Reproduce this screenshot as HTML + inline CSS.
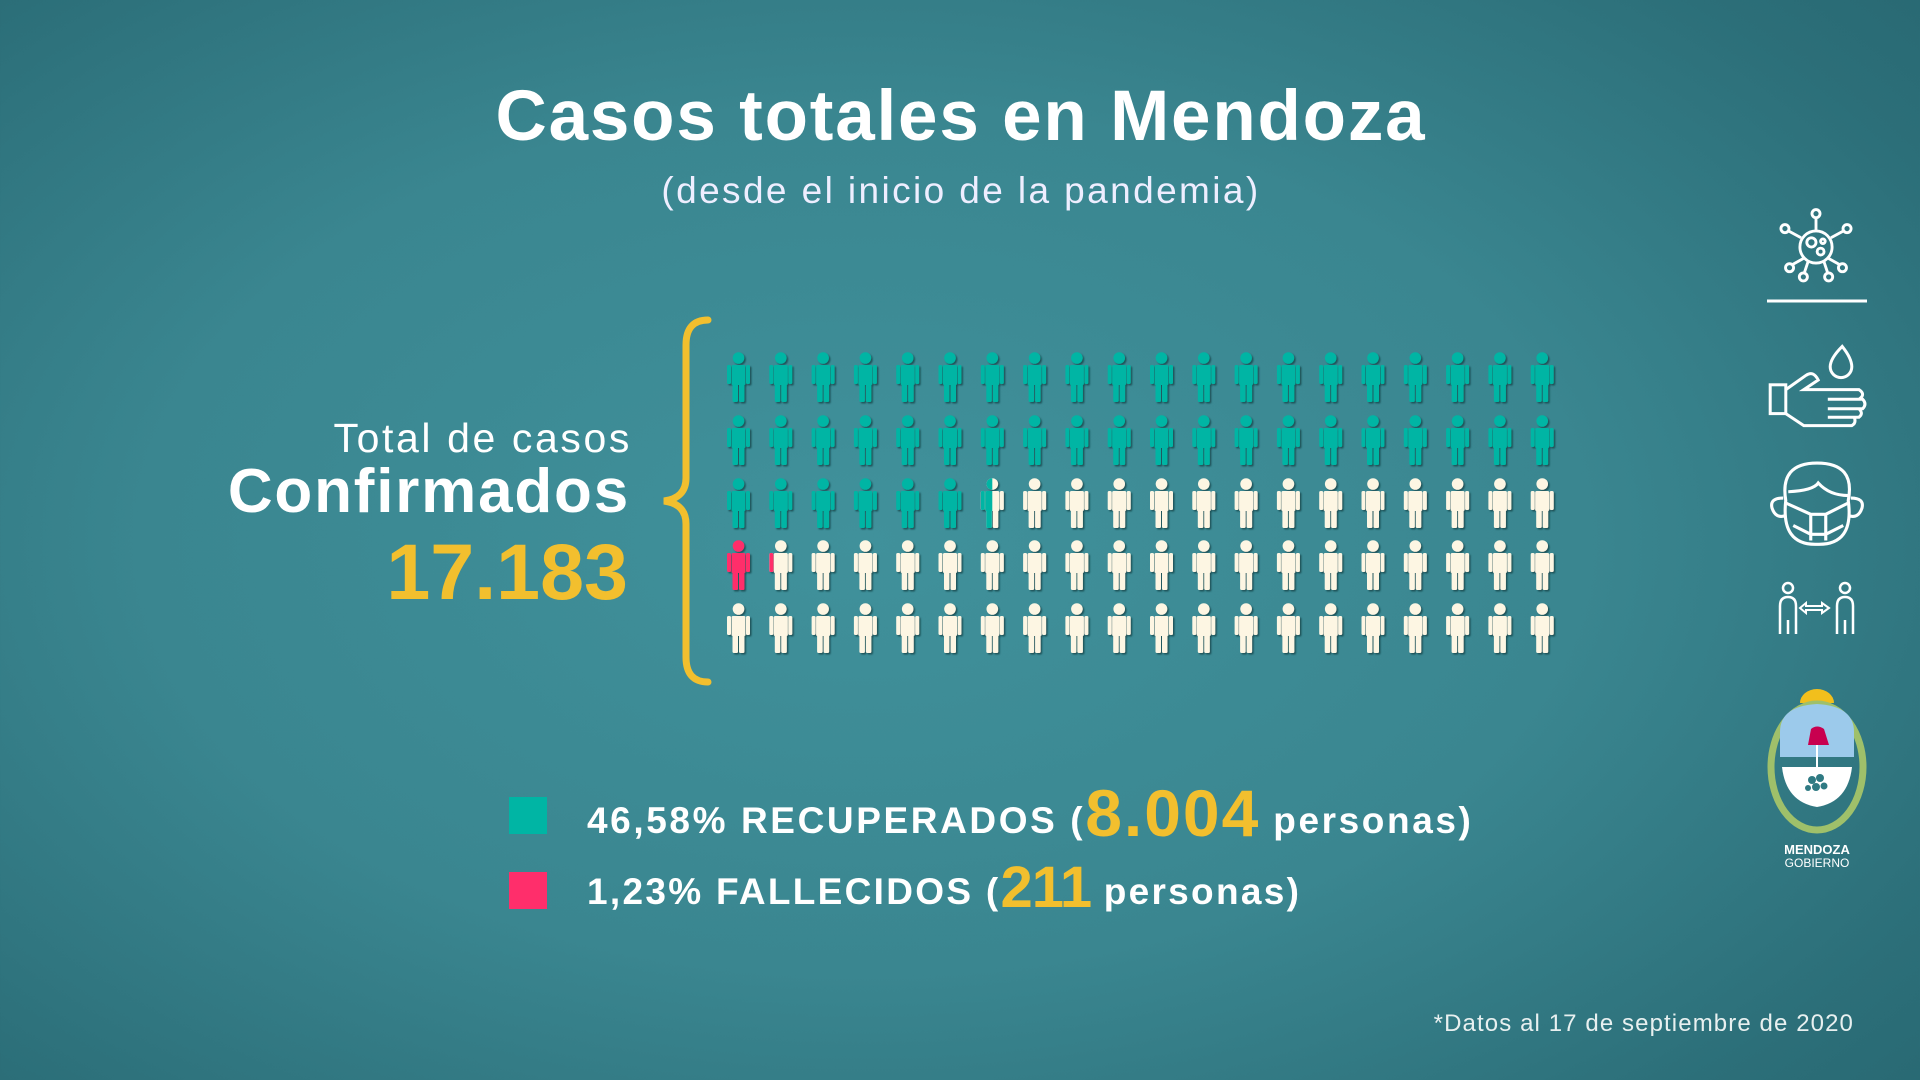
<!DOCTYPE html>
<html><head><meta charset="utf-8"><style>
html,body{margin:0;padding:0}
body{width:1920px;height:1080px;overflow:hidden;position:relative;font-family:"Liberation Sans",sans-serif;
background:radial-gradient(ellipse 75% 80% at 45% 50%,#40919b 0%,#3a8690 50%,#2c6f79 85%,#286872 100%);color:#fff}
.t{position:absolute;white-space:nowrap}
</style></head><body>
<div class="t" style="left:0;width:1922px;text-align:center;top:76px;font-size:71px;font-weight:bold;letter-spacing:1.8px">Casos totales en Mendoza</div>
<div class="t" style="left:0;width:1922px;text-align:center;top:170px;font-size:37px;color:#eef;letter-spacing:2.4px">(desde el inicio de la pandemia)</div>
<div class="t" style="right:1290px;top:415px;font-size:41px;text-align:right;letter-spacing:2.6px;margin-right:-2px">Total de casos</div>
<div class="t" style="right:1290px;top:456px;font-size:62px;font-weight:bold;text-align:right;letter-spacing:1.8px">Confirmados</div>
<div class="t" style="right:1292px;top:526px;font-size:79px;font-weight:bold;color:#f2bf2e;text-align:right">17.183</div>
<svg style="position:absolute;left:0;top:0" width="1920" height="1080">
<defs>
<g id="p"><circle cx="11.5" cy="6" r="5.8"/><rect x="4.5" y="13" width="14" height="20" rx="1.5"/><rect x="0" y="13" width="4" height="19" rx="1.5"/><rect x="19" y="13" width="4" height="19" rx="1.5"/><rect x="5.5" y="31" width="5.5" height="19" rx="1.5"/><rect x="12" y="31" width="5.5" height="19" rx="1.5"/></g>
<filter id="sh"><feDropShadow dx="1.5" dy="1.5" stdDeviation="0.8" flood-color="#0a3a40" flood-opacity="0.7"/></filter>
<clipPath id="half"><rect x="0" y="0" width="11.5" height="60"/></clipPath>
<clipPath id="arm"><rect x="0" y="0" width="4.5" height="60"/></clipPath>
</defs>
<path d="M708,320 Q686,320 686,345 L686,478 Q686,498 664,501 Q686,504 686,524 L686,657 Q686,682 708,682" fill="none" stroke="#f2bf2e" stroke-width="7" stroke-linecap="round"/>
<g id="grid" filter="url(#sh)"></g>
<rect x="509" y="797" width="38" height="37" fill="#00b5a4"/>
<rect x="509" y="872" width="38" height="37" fill="#ff2e6b"/>
<g fill="none" stroke="#fff" stroke-width="2.5">
<g transform="translate(1816,247) scale(1.15) translate(-1816,-244)">
<circle cx="1816" cy="244" r="14"/><circle cx="1812" cy="240" r="4"/><circle cx="1820" cy="248" r="3"/><circle cx="1822" cy="239" r="2"/>
<line x1="1816" y1="230" x2="1816" y2="219"/><circle cx="1816" cy="215" r="3.5"/>
<line x1="1803" y1="236" x2="1792" y2="230"/><circle cx="1789" cy="228" r="3.5"/>
<line x1="1829" y1="236" x2="1840" y2="230"/><circle cx="1843" cy="228" r="3.5"/>
<line x1="1805" y1="254" x2="1796" y2="259"/><circle cx="1793" cy="262" r="3.5"/>
<line x1="1827" y1="254" x2="1836" y2="259"/><circle cx="1839" cy="262" r="3.5"/>
<line x1="1809" y1="257" x2="1806" y2="266"/><circle cx="1805" cy="270" r="3.5"/>
<line x1="1823" y1="257" x2="1826" y2="266"/><circle cx="1827" cy="270" r="3.5"/>
</g>
<g transform="translate(1817,386) scale(1.2) translate(-1817,-349)">
<path d="M1838,316 Q1828,326 1828,333 A8,8 0 0 0 1846,333 Q1846,326 1838,316Z"/>
<rect x="1778" y="348" width="13" height="24"/>
<path d="M1791,352 L1808,340 Q1814,336 1818,344 L1806,352 L1852,352 Q1858,356 1852,360 L1826,360 M1826,360 L1855,360 Q1859,364 1855,368 L1826,368 M1826,368 L1852,368 Q1856,372 1852,375 L1826,375 M1826,375 L1848,375 Q1850,380 1846,382 L1806,382 L1791,372"/>
</g>
<g transform="translate(1817,503) scale(1.25) translate(-1815,-434)">
<path d="M1790,432 Q1785,402 1815,402 Q1846,402 1840,432 Q1845,468 1815,467 Q1786,468 1790,432Z"/>
<path d="M1788,430 Q1777,430 1779,438 Q1782,447 1790,444 M1842,430 Q1853,430 1851,438 Q1848,447 1840,444 M1792,425 Q1812,424 1816,418 Q1825,428 1840,428 M1790,434 L1810,443 L1822,443 L1840,434 M1796,452 L1810,459 L1822,459 L1836,452 M1810,443 L1810,464 M1822,443 L1822,464"/>
</g>
<circle cx="1788" cy="588" r="5"/><path d="M1780,634 L1780,606 Q1780,597 1788,597 Q1796,597 1796,606 L1796,634 M1788,620 L1788,634"/>
<circle cx="1845" cy="588" r="5"/><path d="M1837,634 L1837,606 Q1837,597 1845,597 Q1853,597 1853,606 L1853,634 M1845,620 L1845,634"/>
<path d="M1800,608 L1806,603 L1806,606 L1822,606 L1822,603 L1829,608 L1822,613 L1822,610 L1806,610 L1806,613Z" stroke-width="2"/>
<line x1="1767" y1="301" x2="1867" y2="301" stroke-width="3"/>
</g>
<path d="M1800,703 A17,14 0 0 1 1834,703 Z" fill="#f2bf1c"/>
<ellipse cx="1817" cy="767" rx="46" ry="63" fill="none" stroke="#9fc06a" stroke-width="7"/>
<path d="M1780,757 L1780,732 Q1780,706 1817,704 Q1854,706 1854,732 L1854,757 Z" fill="#9ccaeb"/>
<path d="M1782,767 L1852,767 Q1848,802 1817,807 Q1786,802 1782,767Z" fill="#fff"/>
<path d="M1808,745 L1811,729 Q1817,724 1824,729 L1829,745 Z" fill="#c8004f"/>
<line x1="1817" y1="745" x2="1817" y2="772" stroke="#fff" stroke-width="2"/>
<g fill="#2f7a83"><circle cx="1812" cy="780" r="4"/><circle cx="1820" cy="778" r="4"/><circle cx="1816" cy="787" r="4"/><circle cx="1824" cy="786" r="3.5"/><circle cx="1808" cy="788" r="3"/></g>
<text x="1817" y="854" text-anchor="middle" font-size="13" font-weight="bold" fill="#fff" font-family="Liberation Sans,sans-serif">MENDOZA</text>
<text x="1817" y="867" text-anchor="middle" font-size="12" fill="#fff" font-family="Liberation Sans,sans-serif">GOBIERNO</text>
</svg>
<div class="t" style="left:587px;top:778px;font-size:37px;font-weight:bold;line-height:70px;letter-spacing:2.6px">46,58% RECUPERADOS (<span style="color:#f2bf2e;font-size:66px;vertical-align:-3px;letter-spacing:2px">8.004</span> personas)</div>
<div class="t" style="left:587px;top:853px;font-size:37px;font-weight:bold;line-height:70px;letter-spacing:2.3px">1,23% FALLECIDOS (<span style="color:#f2bf2e;font-size:58px;vertical-align:-3px;letter-spacing:-1px">211</span> personas)</div>
<div class="t" style="right:66px;top:1010px;font-size:24px;color:#e8f0f0;letter-spacing:1.1px">*Datos al 17 de septiembre de 2020</div>
<script>
var g=document.getElementById('grid'),s='',T='#00b5a4',C='#fdf6e3',P='#ff2e6b';
var ys=[352,415,478,540,603];
for(var r=0;r<5;r++)for(var c=0;c<20;c++){
 var x=(727+c*42.3).toFixed(1),y=ys[r],i=r*20+c,col=C,extra='';
 if(i<46)col=T;
 if(i==46)extra='<use href="#p" fill="'+T+'" clip-path="url(#half)"/>';
 if(i==60)col=P;
 if(i==61)extra='<use href="#p" fill="'+P+'" clip-path="url(#arm)"/>';
 s+='<g transform="translate('+x+','+y+')"><use href="#p" fill="'+col+'"/>'+extra+'</g>';
}
g.innerHTML=s;
</script>
</body></html>
